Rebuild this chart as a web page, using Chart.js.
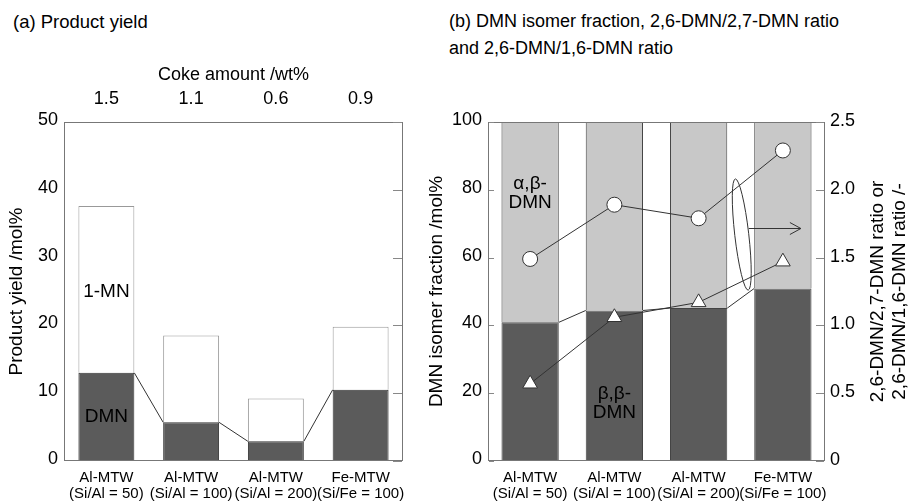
<!DOCTYPE html>
<html>
<head>
<meta charset="utf-8">
<script src="https://cdn.jsdelivr.net/npm/chart.js@4.4.0/dist/chart.umd.min.js"></script>
<style>
    body { margin: 0; background: #fff; width: 911px; height: 504px; position: relative; overflow: hidden; font-family: 'Liberation Sans', Arial, sans-serif; }
    .titulo { position: absolute; font-size: 18.5px; line-height: 27px; color: #000; white-space: nowrap; }
    #cajaA { position: absolute; left: 0; top: 0; width: 420px; height: 504px; }
    #cajaB { position: absolute; left: 420px; top: 0; width: 491px; height: 504px; }
</style>
</head>
<body>
<div class="titulo" style="left:13px;top:8px">(a) Product yield</div>
<div class="titulo" style="left:449px;top:8px;font-size:18px">(b) DMN isomer fraction, 2,6-DMN/2,7-DMN ratio<br>and 2,6-DMN/1,6-DMN ratio</div>
<div id="cajaA"><canvas id="grafico1"></canvas></div>
<div id="cajaB"><canvas id="grafico2"></canvas></div>

<script>
// datos
var catalizadores = [['Al-MTW', '(Si/Al = 50)'], ['Al-MTW', '(Si/Al = 100)'], ['Al-MTW', '(Si/Al = 200)'], ['Fe-MTW', '(Si/Fe = 100)']];
var coque = ['1.5', '1.1', '0.6', '0.9'];
var rendDMN = [13.0, 5.7, 2.9, 10.5];
var rend1MN = [24.6, 12.8, 6.3, 9.3];
var fraccionBB = [40.9, 44.4, 45.1, 50.9];
var fraccionAB = [59.1, 55.6, 54.9, 49.1];
var razon2627 = [1.49, 1.89, 1.79, 2.29];
var razon2616 = [0.57, 1.06, 1.17, 1.47];

Chart.defaults.font.family = "'Liberation Sans', Arial, sans-serif";
Chart.defaults.color = '#000';
Chart.defaults.animation = false;

const FUENTE_TICK = { size: 18 };
const FUENTE_CAT = { size: 15, lineHeight: 1.05 };
const FUENTE_TIT = { size: 19 };
const SIN_GRILLA = { display: false, drawTicks: false, tickLength: 0 };

// une la esquina superior de cada barra con la siguiente
function unirBarras(ctx, meta) {
    ctx.strokeStyle = '#333';
    ctx.lineWidth = 1;
    for (let i = 0; i < meta.data.length - 1; i++) {
        let b = meta.data[i], sig = meta.data[i + 1];
        ctx.beginPath();
        ctx.moveTo(b.x + b.width / 2, b.y);
        ctx.lineTo(sig.x - sig.width / 2, sig.y);
        ctx.stroke();
    }
}

function textoBarra(chart, lineas, cat, valor) {
    const ctx = chart.ctx;
    let x = chart.scales.x.getPixelForValue(cat);
    let y = chart.scales.y.getPixelForValue(valor);
    ctx.font = "19px 'Liberation Sans', Arial, sans-serif";
    ctx.fillStyle = '#000';
    ctx.textAlign = 'center';
    ctx.textBaseline = 'middle';
    let y0 = y - (lineas.length - 1) * 9.5;
    lineas.forEach((t, k) => ctx.fillText(t, x, y0 + k * 19));
}

function marco(ctx, a) {
    ctx.strokeStyle = '#777';
    ctx.lineWidth = 1;
    ctx.strokeRect(a.left + 0.5, a.top + 0.5, a.right - a.left - 1, a.bottom - a.top - 1);
}

function marcasDentro(ctx, escala, x, largo) {
    ctx.strokeStyle = '#888';
    ctx.lineWidth = 1;
    escala.ticks.forEach(t => {
        let y = Math.round(escala.getPixelForValue(t.value)) + 0.5;
        ctx.beginPath();
        ctx.moveTo(x, y);
        ctx.lineTo(x + largo, y);
        ctx.stroke();
    });
}

// GRAFICO (a) - RENDIMIENTO
const extrasA = {
    id: 'extrasA',
    afterDatasetsDraw(chart) {
        const ctx = chart.ctx, a = chart.chartArea;
        ctx.save();
        unirBarras(ctx, chart.getDatasetMeta(0));
        textoBarra(chart, ['1-MN'], 0, 25);
        textoBarra(chart, ['DMN'], 0, 6.5);
        marco(ctx, a);
        marcasDentro(ctx, chart.scales.y, a.right - 1, -9);
        ctx.restore();
    }
};

new Chart(document.getElementById('grafico1').getContext('2d'), {
    type: 'bar',
    data: {
        labels: catalizadores,
        datasets: [{
            label: 'DMN',
            data: rendDMN,
            backgroundColor: '#5b5b5b',
            borderColor: '#333',
            borderWidth: 1,
            barPercentage: 0.66,
            categoryPercentage: 1
        }, {
            label: '1-MN',
            data: rend1MN,
            backgroundColor: '#fff',
            borderColor: '#999',
            borderWidth: 1,
            barPercentage: 0.66,
            categoryPercentage: 1
        }]
    },
    options: {
        responsive: true,
        maintainAspectRatio: false,
        layout: { padding: { top: 55, right: 17, left: 0, bottom: 0 } },
        plugins: { legend: { display: false }, tooltip: { enabled: false } },
        scales: {
            x: {
                stacked: true,
                grid: SIN_GRILLA,
                border: { display: false },
                ticks: { font: FUENTE_CAT, padding: 9, maxRotation: 0, autoSkip: false },
                afterFit: s => { s.height = 43; }
            },
            arriba: {
                type: 'category',
                position: 'top',
                labels: coque,
                offset: true,
                grid: SIN_GRILLA,
                border: { display: false },
                ticks: { font: FUENTE_TICK, padding: 12 },
                title: { display: true, text: 'Coke amount /wt%', font: FUENTE_TICK, padding: { top: 9, bottom: 0 } },
                afterFit: s => { s.height = 67; }
            },
            y: {
                stacked: true,
                min: 0,
                max: 50,
                grid: SIN_GRILLA,
                border: { display: false },
                ticks: { stepSize: 10, font: FUENTE_TICK, padding: 6, labelOffset: -2 },
                title: { display: true, text: 'Product yield /mol%', font: FUENTE_TIT, padding: { top: 5, bottom: 0 } },
                afterFit: s => { s.width = 64; }
            }
        }
    },
    plugins: [extrasA]
});

// GRAFICO (b) - FRACCION DE ISOMEROS Y RAZONES
const extrasB = {
    id: 'extrasB',
    afterDatasetsDraw(chart) {
        const ctx = chart.ctx, a = chart.chartArea;
        const ex = chart.scales.x, ey2 = chart.scales.y2;
        ctx.save();
        unirBarras(ctx, chart.getDatasetMeta(0));
        textoBarra(chart, ['\u03b1,\u03b2-', 'DMN'], 0, 79);
        textoBarra(chart, ['\u03b2,\u03b2-', 'DMN'], 1, 17);
        marco(ctx, a);
        marcasDentro(ctx, chart.scales.y, a.left + 1, 5);
        marcasDentro(ctx, ey2, a.right - 1, -8);

        // elipse que agrupa las dos series y flecha hacia el eje derecho
        let cx = ex.getPixelForValue(2.5) + 1;
        let cy = ey2.getPixelForValue(1.67);
        ctx.strokeStyle = '#333';
        ctx.lineWidth = 1;
        ctx.beginPath();
        ctx.ellipse(cx, cy, 7, 56, -0.115, 0, Math.PI * 2);
        ctx.stroke();
        let fy = Math.round(ey2.getPixelForValue(1.72)) + 0.5;
        let fx = ex.getPixelForValue(3) + 18;
        ctx.beginPath();
        ctx.moveTo(cx + 7, fy);
        ctx.lineTo(fx, fy);
        ctx.moveTo(fx - 11, fy - 6);
        ctx.lineTo(fx, fy);
        ctx.lineTo(fx - 11, fy + 6);
        ctx.stroke();

        // titulo del eje derecho (se lee de abajo hacia arriba)
        ctx.fillStyle = '#000';
        ctx.font = "19px 'Liberation Sans', Arial, sans-serif";
        ctx.textAlign = 'center';
        ctx.textBaseline = 'middle';
        ctx.translate(a.right + 53, (a.top + a.bottom) / 2);
        ctx.rotate(-Math.PI / 2);
        ctx.fillText('2,6-DMN/2,7-DMN ratio or', 0, 0);
        ctx.fillText('2,6-DMN/1,6-DMN ratio /-', 0, 22);
        ctx.restore();
    }
};

new Chart(document.getElementById('grafico2').getContext('2d'), {
    type: 'bar',
    data: {
        labels: catalizadores,
        datasets: [{
            label: '\u03b2,\u03b2-DMN',
            data: fraccionBB,
            backgroundColor: '#5b5b5b',
            borderColor: '#444',
            borderWidth: 1,
            barPercentage: 0.68,
            categoryPercentage: 1,
            order: 1
        }, {
            label: '\u03b1,\u03b2-DMN',
            data: fraccionAB,
            backgroundColor: '#c8c8c8',
            borderColor: '#444',
            borderWidth: 1,
            barPercentage: 0.68,
            categoryPercentage: 1,
            order: 1
        }, {
            type: 'line',
            label: '2,6-DMN/2,7-DMN',
            data: razon2627,
            yAxisID: 'y2',
            borderColor: '#333',
            borderWidth: 1,
            pointStyle: 'circle',
            pointRadius: 7.5,
            pointBackgroundColor: '#fff',
            pointBorderColor: '#333',
            pointBorderWidth: 1,
            fill: false,
            tension: 0,
            order: 0
        }, {
            type: 'line',
            label: '2,6-DMN/1,6-DMN',
            data: razon2616,
            yAxisID: 'y2',
            borderColor: '#333',
            borderWidth: 1,
            pointStyle: 'triangle',
            pointRadius: 8.5,
            pointBackgroundColor: '#fff',
            pointBorderColor: '#333',
            pointBorderWidth: 1,
            fill: false,
            tension: 0,
            order: 0
        }]
    },
    options: {
        responsive: true,
        maintainAspectRatio: false,
        layout: { padding: { top: 122, right: 0, left: 0, bottom: 0 } },
        plugins: { legend: { display: false }, tooltip: { enabled: false } },
        scales: {
            x: {
                stacked: true,
                grid: SIN_GRILLA,
                border: { display: false },
                ticks: { font: FUENTE_CAT, padding: 9, maxRotation: 0, autoSkip: false },
                afterFit: s => { s.height = 43; }
            },
            y: {
                stacked: true,
                min: 0,
                max: 100,
                grid: SIN_GRILLA,
                border: { display: false },
                ticks: { stepSize: 20, font: FUENTE_TICK, padding: 6, labelOffset: -2 },
                title: { display: true, text: 'DMN isomer fraction /mol%', font: FUENTE_TIT, padding: { top: 5, bottom: 0 } },
                afterFit: s => { s.width = 68; }
            },
            y2: {
                position: 'right',
                min: 0,
                max: 2.5,
                grid: SIN_GRILLA,
                border: { display: false },
                ticks: {
                    stepSize: 0.5,
                    font: FUENTE_TICK,
                    padding: 5,
                    labelOffset: -1,
                    callback: v => v === 0 ? '0' : v.toFixed(1)
                },
                afterFit: s => { s.width = 86; }
            }
        }
    },
    plugins: [extrasB]
});
</script>
</body>
</html>
